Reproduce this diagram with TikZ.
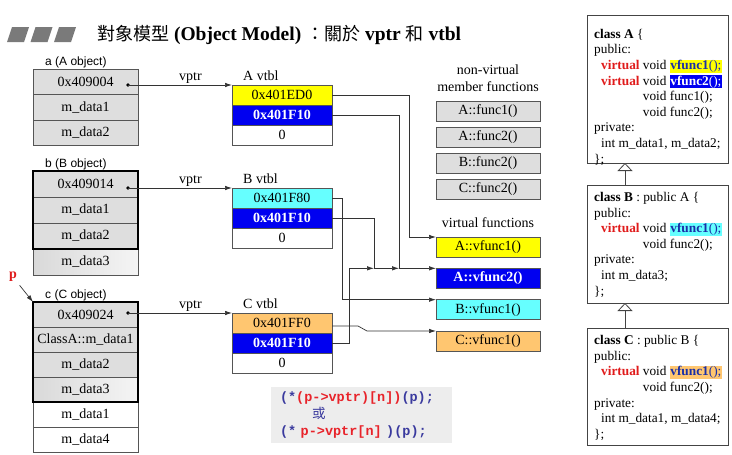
\documentclass[tikz,border=0pt]{standalone}
\usepackage{fontspec}
\usepackage{xcolor}
\setmainfont{Liberation Serif}
\newfontfamily\sanslab{Liberation Sans}
\newfontfamily\codefont{Liberation Mono}
\newfontfamily\cjk{Noto Sans CJK TC}
\usetikzlibrary{positioning,arrows.meta}
\definecolor{cellgray}{HTML}{DEDEDE}
\definecolor{linegray}{HTML}{555555}
\definecolor{wiregray}{HTML}{333333}
\definecolor{titlegray}{HTML}{7A7A7A}
\definecolor{vyellow}{HTML}{FFFF00}
\definecolor{vblue}{HTML}{0000F0}
\definecolor{vcyan}{HTML}{66FFFF}
\definecolor{vorange}{HTML}{FFC670}
\definecolor{codegray}{HTML}{EDEDED}
\definecolor{codeblue}{HTML}{3A3A9E}
\definecolor{codered}{HTML}{E8232A}
\definecolor{kwred}{HTML}{E01B1B}
\definecolor{fnblue}{HTML}{1A2FA8}
\definecolor{clsgray}{HTML}{444444}
\setlength{\fboxsep}{0.5pt}
\tikzset{
	cell/.style={draw=linegray, fill=cellgray, line width=0.8pt, outer sep=0pt, inner sep=0pt, minimum width=105pt, minimum height=25.5pt, font=\fontsize{14}{16}\selectfont},
	marble/.style={left color=gray!30, right color=gray!8},
	frame/.style={line width=2.6pt},
	vcell/.style={draw=linegray, line width=0.8pt, outer sep=0pt, inner sep=0pt, minimum width=100pt, minimum height=20pt, font=\fontsize{14}{16}\selectfont},
	vbold/.style={fill=vblue, text=white, font=\fontsize{14}{16}\selectfont\bfseries},
	fnbox/.style={draw=linegray, line width=0.8pt, outer sep=0pt, inner sep=0pt, minimum width=104pt, minimum height=20pt, font=\fontsize{14}{16}\selectfont},
	objlab/.style={anchor=south west, inner sep=1pt, font=\sanslab\fontsize{12}{14}\selectfont},
	vtlab/.style={anchor=south west, inner sep=1pt, font=\fontsize{14}{16}\selectfont},
	ptr/.style={draw=wiregray, line width=0.7pt, -{Latex[length=7pt,width=4.5pt]}},
	clsbox/.style={draw=clsgray, line width=1pt, minimum width=141pt, inner sep=0pt, outer sep=0pt},
	clstext/.style={anchor=north west, inner sep=0pt, align=left, font=\fontsize{13.3}{15.6}\selectfont},
	inh/.style={draw=clsgray, line width=0.8pt, -{Triangle[open, length=8pt, width=15pt, fill=white]}},
	codebox/.style={fill=codegray, minimum width=181pt, minimum height=56pt, text width=163pt, inner xsep=9pt, align=left, font=\fontsize{13.5}{17}\selectfont\codefont\bfseries}
}
\begin{document}
\begin{tikzpicture}[x=1pt,y=-1pt]
	\useasboundingbox (0,0) rectangle (732,455);
	\foreach \i in {0,1,2}
		\fill[titlegray] ({7+23.5*\i},42) -- ++(17,0) -- ++(5,-15) -- ++(-17,0) -- cycle;
	\node[anchor=base west, inner sep=0pt, font=\fontsize{19.5}{22}\selectfont] (title) at (97,40) {{\cjk\fontsize{18}{22}\selectfont 對象模型} \textbf{(Object Model)} {\cjk\fontsize{18}{22}\selectfont ：關於} \textbf{vptr} {\cjk\fontsize{18}{22}\selectfont 和} \textbf{vtbl}};

	\node[cell] (a1) at (85.5,81.75) {0x409004};
	\node[cell, below=0pt of a1] (a2) {m\_data1};
	\node[cell, below=0pt of a2] (a3) {m\_data2};
	\node[objlab] (alab) at ([xshift=11pt]a1.north west) {a (A object)};

	\node[cell, minimum height=26pt] (b1) at (85.5,184) {0x409014};
	\node[cell, minimum height=26pt, below=0pt of b1] (b2) {m\_data1};
	\node[cell, minimum height=26pt, below=0pt of b2] (b3) {m\_data2};
	\node[cell, marble, minimum height=26pt, below=0pt of b3] (b4) {m\_data3};
	\draw[frame] (b1.north west) rectangle (b3.south east);
	\node[objlab] (blab) at ([xshift=11pt]b1.north west) {b (B object)};

	\node[cell, minimum height=25pt] (c1) at (85.5,314.5) {0x409024};
	\node[cell, minimum height=25pt, below=0pt of c1] (c2) {ClassA::m\_data1};
	\node[cell, minimum height=25pt, below=0pt of c2] (c3) {m\_data2};
	\node[cell, marble, minimum height=25pt, below=0pt of c3] (c4) {m\_data3};
	\node[cell, fill=white, minimum height=25pt, below=0pt of c4] (c5) {m\_data1};
	\node[cell, fill=white, minimum height=25pt, below=0pt of c5] (c6) {m\_data4};
	\draw[frame] (c1.north west) rectangle (c4.south east);
	\node[objlab] (clab) at ([xshift=11pt]c1.north west) {c (C object)};

	\node[text=kwred, font=\fontsize{14}{16}\selectfont\bfseries] (p) at (13,277) {p};
	\draw[ptr] (p) -- (c1.north west);

	\node[vcell, fill=vyellow] (vtA1) at (282,95) {0x401ED0};
	\node[vcell, vbold, below=0pt of vtA1] (vtA2) {0x401F10};
	\node[vcell, fill=white, below=0pt of vtA2] (vtA3) {0};
	\node[vtlab] at ([xshift=10pt,yshift=3pt]vtA1.north west) {A vtbl};

	\node[vcell, fill=vcyan] (vtB1) at (282,198) {0x401F80};
	\node[vcell, vbold, below=0pt of vtB1] (vtB2) {0x401F10};
	\node[vcell, fill=white, below=0pt of vtB2] (vtB3) {0};
	\node[vtlab] at ([xshift=10pt,yshift=3pt]vtB1.north west) {B vtbl};

	\node[vcell, fill=vorange] (vtC1) at (282,323) {0x401FF0};
	\node[vcell, vbold, below=0pt of vtC1] (vtC2) {0x401F10};
	\node[vcell, fill=white, below=0pt of vtC2] (vtC3) {0};
	\node[vtlab] at ([xshift=10pt,yshift=3pt]vtC1.north west) {C vtbl};

	\path (a1.east |- vtA1.north) ++(-10,0) coordinate (adot);
	\path (b1.east |- vtB1.north) ++(-10,0) coordinate (bdot);
	\path (c1.east |- vtC1.north) ++(-10,0) coordinate (cdot);
	\fill[black] (adot) circle (1.8pt) (bdot) circle (1.8pt) (cdot) circle (1.8pt);
	\draw[ptr] (adot) -- node[above, pos=0.6, inner sep=1.5pt, font=\fontsize{14}{16}\selectfont] {vptr} (vtA1.north west);
	\draw[ptr] (bdot) -- node[above, pos=0.6, inner sep=1.5pt, font=\fontsize{14}{16}\selectfont] {vptr} (vtB1.north west);
	\draw[ptr] (cdot) -- node[above, pos=0.6, inner sep=1.5pt, font=\fontsize{14}{16}\selectfont] {vptr} (vtC1.north west);

	\node[align=center, font=\fontsize{14}{17}\selectfont] (nvlab) at (488,78.5) {non-virtual\\member functions};
	\node[fnbox, fill=cellgray] (nfA1) at (488,111) {A::func1()};
	\node[fnbox, fill=cellgray, below=6pt of nfA1] (nfA2) {A::func2()};
	\node[fnbox, fill=cellgray, below=6pt of nfA2] (nfB2) {B::func2()};
	\node[fnbox, fill=cellgray, below=6pt of nfB2] (nfC2) {C::func2()};

	\node[font=\fontsize{14}{16}\selectfont] (vlab) at (488,223) {virtual functions};
	\node[fnbox, fill=vyellow] (vfA1) at (488,247) {A::vfunc1()};
	\node[fnbox, vbold, below=11.33pt of vfA1] (vfA2) {A::vfunc2()};
	\node[fnbox, fill=vcyan, below=11.33pt of vfA2] (vfB1) {B::vfunc1()};
	\node[fnbox, fill=vorange, below=11.33pt of vfB1] (vfC1) {C::vfunc1()};

	\coordinate (jA) at ([xshift=-37pt]vfA2.north west);
	\coordinate (jB) at ([xshift=-62pt]vfA2.north west);
	\coordinate (jC) at ([xshift=-87pt]vfA2.north west);
	\draw[ptr] (vtA1.east) -| ([xshift=-27pt]vfA1.north west) -- (vfA1.north west);
	\draw[ptr] (vtA2.east) -| (jA) -- (vfA2.north west);
	\draw[ptr] (vtB2.east) -| (jB) -- (jA);
	\draw[ptr] (vtC2.east) -| (jC) -- (jB);
	\draw[ptr] (vtB1.east) -| ([xshift=-94pt]vfB1.north west) -- (vfB1.north west);
	\draw[ptr] ([yshift=-3pt]vtC1.east) -- ++(26,0) -- ([xshift=-69pt]vfC1.north west) -- (vfC1.north west);

	\node[codebox] (code) at (361.5,415) {\textcolor{codeblue}{(*}\textcolor{codered}{(p->vptr)[n])}\textcolor{codeblue}{(p);}\\
		\hspace*{32pt}{\color{codeblue}\cjk\mdseries 或}\\
		\textcolor{codeblue}{(*\ }\textcolor{codered}{p->vptr[n]}\textcolor{codeblue}{\ )(p);}};

	\node[clsbox, minimum height=148pt] (clsA) at (657.5,89) {};
	\node[clsbox, minimum height=118pt] (clsB) at (657.5,244) {};
	\node[clsbox, minimum height=117pt] (clsC) at (657.5,386.5) {};
	\draw[inh] ([xshift=-32.5pt]clsB.north) -- ([xshift=-32.5pt]clsA.south);
	\draw[inh] ([xshift=-32.5pt]clsC.north) -- ([xshift=-32.5pt]clsB.south);

	\node[clstext] (clsAtxt) at (594,28.8) {\textbf{class A} \{\\
		public:\\
		\hspace*{7pt}\textcolor{kwred}{\textbf{virtual}} void \colorbox{vyellow}{\textcolor{fnblue}{\textbf{vfunc1}();}}\\
		\hspace*{7pt}\textcolor{kwred}{\textbf{virtual}} void \colorbox{vblue}{\textcolor{white}{\textbf{vfunc2}();}}\\
		\hspace*{7pt}\phantom{\textbf{virtual} }void func1();\\
		\hspace*{7pt}\phantom{\textbf{virtual} }void func2();\\
		private:\\
		\hspace*{7pt}int m\_data1, m\_data2;\\
		\};};
	\node[clstext] (clsBtxt) at (594,192) {\textbf{class B} : public A \{\\
		public:\\
		\hspace*{7pt}\textcolor{kwred}{\textbf{virtual}} void \colorbox{vcyan}{\textcolor{fnblue}{\textbf{vfunc1}();}}\\
		\hspace*{7pt}\phantom{\textbf{virtual} }void func2();\\
		private:\\
		\hspace*{7pt}int m\_data3;\\
		\};};
	\node[clstext] (clsCtxt) at (594,335.3) {\textbf{class C} : public B \{\\
		public:\\
		\hspace*{7pt}\textcolor{kwred}{\textbf{virtual}} void \colorbox{vorange}{\textcolor{fnblue}{\textbf{vfunc1}();}}\\
		\hspace*{7pt}\phantom{\textbf{virtual} }void func2();\\
		private:\\
		\hspace*{7pt}int m\_data1, m\_data4;\\
		\};};
\end{tikzpicture}
\end{document}
